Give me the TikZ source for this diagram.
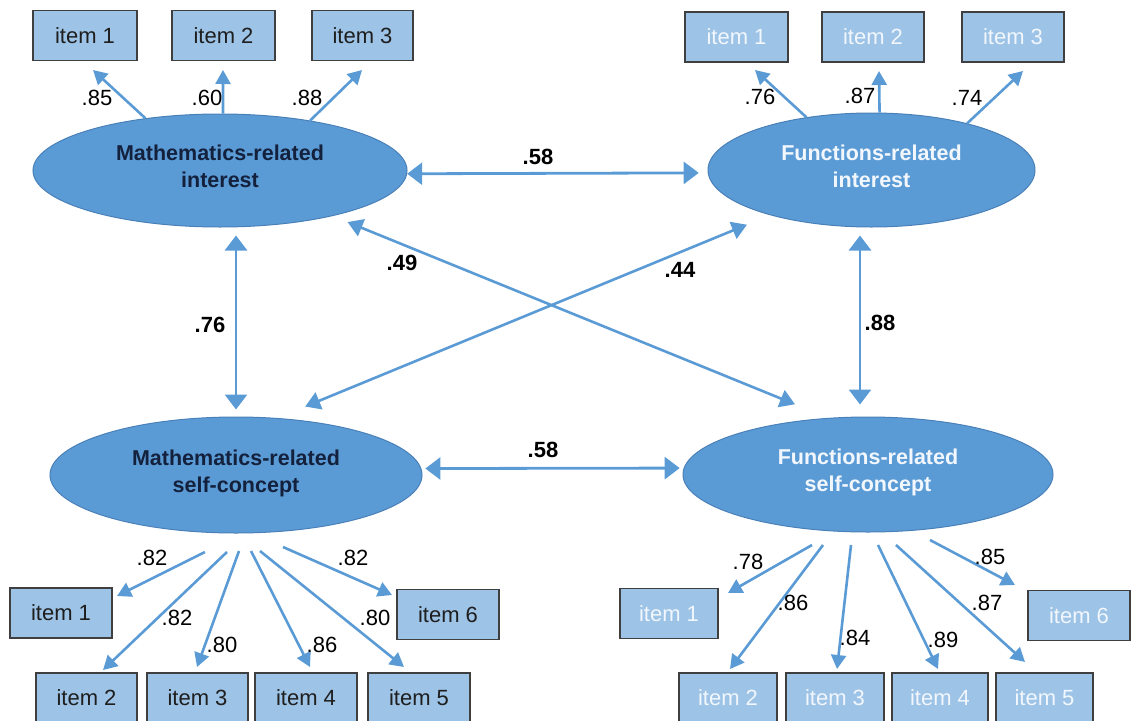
\documentclass[tikz,border=0pt]{standalone}
\usepackage{fontspec}
\setmainfont{Liberation Sans}
\usetikzlibrary{shapes.geometric,arrows.meta,calc}
\definecolor{ellfill}{HTML}{5B9BD5}
\definecolor{elldraw}{HTML}{4A80B8}
\definecolor{boxfill}{HTML}{9DC3E6}
\definecolor{boxdraw}{HTML}{3F3F3F}
\definecolor{arrowc}{HTML}{5B9BD5}
\definecolor{darktxt}{HTML}{14213D}
\definecolor{boxtxt}{HTML}{1E1E1E}
\definecolor{lighttxt}{HTML}{F2F7FD}
\begin{document}
\begin{tikzpicture}[x=1pt,y=-1pt,
  latent/.style={ellipse, fill=ellfill, draw=elldraw, line width=1pt, inner sep=0pt, align=center, text depth=8pt, font=\fontsize{21.5}{27}\selectfont\bfseries},
  item/.style={rectangle, fill=boxfill, draw=boxdraw, line width=1.3pt, minimum width=102pt, minimum height=50pt, inner sep=0pt, font=\fontsize{22}{24}\selectfont},
  load/.style={draw=arrowc, line width=2.6pt, -{Triangle[length=14pt,width=15pt]}},
  corr/.style={draw=arrowc, line width=2.8pt, {Triangle[length=15pt,width=22pt]}-{Triangle[length=15pt,width=22pt]}},
  xcorr/.style={draw=arrowc, line width=2.6pt, {Triangle[length=15pt,width=18pt]}-{Triangle[length=15pt,width=18pt]}},
  lbl/.style={font=\fontsize{22}{24}\selectfont, inner sep=0pt},
  blbl/.style={font=\fontsize{22}{24}\selectfont\bfseries, inner sep=0pt}]
\clip (0,0) rectangle (1142,720);
\useasboundingbox (0,0) rectangle (1142,720);

% latent variables
\node[latent, text=darktxt, minimum width=374pt, minimum height=113pt] (mi) at (220,170.5) {Mathematics-related\\interest};
\node[latent, text=lighttxt, minimum width=327pt, minimum height=114pt] (fi) at (871.5,170) {Functions-related\\interest};
\node[latent, text=darktxt, minimum width=372pt, minimum height=116pt] (ms) at (236,475) {Mathematics-related\\self-concept};
\node[latent, text=lighttxt, minimum width=370pt, minimum height=115pt] (fs) at (868,474.5) {Functions-related\\self-concept};

% top-left items
\node[item, text=boxtxt, minimum width=104pt] (a1) at (85,35.5) {item 1};
\node[item, text=boxtxt, minimum width=103pt] (a2) at (223.5,35.5) {item 2};
\node[item, text=boxtxt, minimum width=101pt] (a3) at (362.5,35.5) {item 3};
% top-right items
\node[item, text=lighttxt, minimum width=103pt] (b1) at (736.5,37) {item 1};
\node[item, text=lighttxt] (b2) at (873,37) {item 2};
\node[item, text=lighttxt] (b3) at (1013,37) {item 3};
% bottom-left items
\node[item, text=boxtxt] (c1) at (61,613) {item 1};
\node[item, text=boxtxt] (c6) at (448,614.5) {item 6};
\node[item, text=boxtxt, minimum width=101pt] (c2) at (86.5,698) {item 2};
\node[item, text=boxtxt, minimum width=101pt] (c3) at (197.5,698) {item 3};
\node[item, text=boxtxt] (c4) at (306,698) {item 4};
\node[item, text=boxtxt] (c5) at (419,698) {item 5};
% bottom-right items
\node[item, text=lighttxt, minimum width=98pt] (d1) at (669,613.5) {item 1};
\node[item, text=lighttxt] (d6) at (1079,615.5) {item 6};
\node[item, text=lighttxt, minimum width=98pt] (d2) at (728,698) {item 2};
\node[item, text=lighttxt, minimum width=98pt] (d3) at (835,698) {item 3};
\node[item, text=lighttxt, minimum width=96pt] (d4) at (940,698) {item 4};
\node[item, text=lighttxt, minimum width=97pt] (d5) at (1044.5,698) {item 5};

% loading arrow tips and starts
\coordinate (ta1) at (93,70);  \coordinate (ta2) at (223,70);  \coordinate (ta3) at (362,70);
\coordinate (tb1) at (755,70); \coordinate (tb2) at (879,71);  \coordinate (tb3) at (1023,71);
\coordinate (sc1) at (205,552); \coordinate (tc1) at (117,596);
\coordinate (sc2) at (227,552); \coordinate (tc2) at (103,670);
\coordinate (sc3) at (239,551); \coordinate (tc3) at (197,667);
\coordinate (sc4) at (251,551); \coordinate (tc4) at (310,667);
\coordinate (sc5) at (260,551); \coordinate (tc5) at (404,667);
\coordinate (sc6) at (283,547); \coordinate (tc6) at (392,595);
\coordinate (sd1) at (812,545); \coordinate (td1) at (728,593);
\coordinate (sd2) at (823,545); \coordinate (td2) at (730,669);
\coordinate (sd3) at (851,545); \coordinate (td3) at (837,669);
\coordinate (sd4) at (878,545); \coordinate (td4) at (938,669);
\coordinate (sd5) at (896,545); \coordinate (td5) at (1025,662);
\coordinate (sd6) at (930,540); \coordinate (td6) at (1015,585);

% top loadings
\draw[load] (mi.145.6) -- (ta1);
\draw[load] (mi.87) -- (ta2);
\draw[load] (mi.29.7) -- (ta3);
\draw[load] (fi.141.4) -- (tb1);
\draw[load] (fi.82.5) -- (tb2);
\draw[load] (fi.26) -- (tb3);
% bottom loadings
\foreach \i in {1,...,6} {
  \draw[load] (sc\i) -- (tc\i);
  \draw[load] (sd\i) -- (td\i);
}

% loading labels
\node[lbl] (la1) at (97,98) {.85};
\node[lbl] (la2) at (207,98) {.60};
\node[lbl] (la3) at (307,98) {.88};
\node[lbl] (lb1) at (760,97) {.76};
\node[lbl] (lb2) at (860,96) {.87};
\node[lbl] (lb3) at (967,98) {.74};
\node[lbl] (lc1) at (152,558) {.82};
\node[lbl] (lc2) at (177,618) {.82};
\node[lbl] (lc3) at (222,645) {.80};
\node[lbl] (lc4) at (322,645) {.86};
\node[lbl] (lc5) at (375,618) {.80};
\node[lbl] (lc6) at (353,558) {.82};
\node[lbl] (ld1) at (748,562) {.78};
\node[lbl] (ld2) at (793,603) {.86};
\node[lbl] (ld3) at (855,638) {.84};
\node[lbl] (ld4) at (943,640) {.89};
\node[lbl] (ld5) at (987,603) {.87};
\node[lbl] (ld6) at (990,557) {.85};

% correlations
\draw[corr, shorten >=9pt] (mi.-1.4) -- (fi.181.8);
\draw[corr, shorten <=4pt, shorten >=4pt] (ms.2.2) -- (fs.178);
\draw[corr, shorten <=8pt, shorten >=7pt] (ms.north |- mi.south) -- (ms.north);
\draw[corr, shorten <=8pt, shorten >=12pt] ([xshift=-11.5pt]fi.south) -- ([xshift=-8pt]fs.north);
\draw[xcorr, shorten <=16pt, shorten >=36pt] (mi.-22) -- (fs.125.4);
\draw[xcorr, shorten <=25pt, shorten >=30pt] (fi.204.8) -- (ms.54);

\node[blbl] (r1) at (538,157) {.58};
\node[blbl] (r2) at (543,450) {.58};
\node[blbl] (r3) at (210,325) {.76};
\node[blbl] (r4) at (880,323) {.88};
\node[blbl] (r5) at (402,263) {.49};
\node[blbl] (r6) at (680,270) {.44};
\end{tikzpicture}
\end{document}
